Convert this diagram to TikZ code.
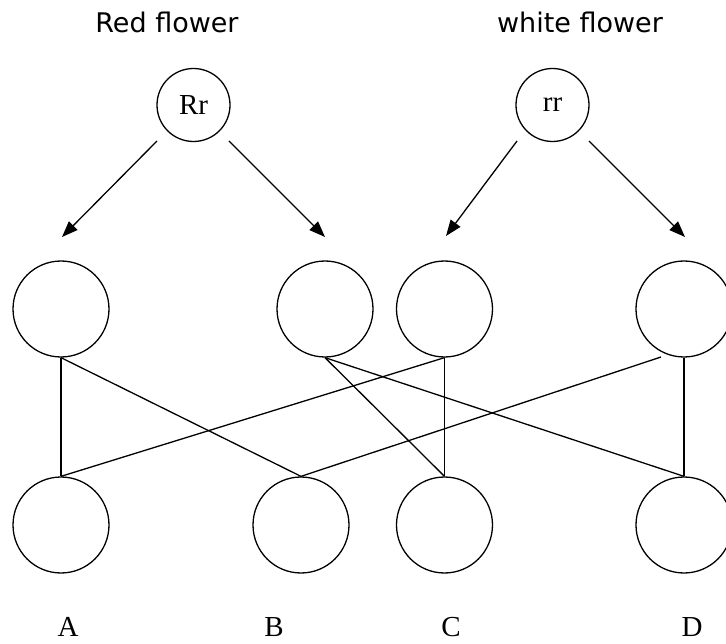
\documentclass[tikz,border=0pt]{standalone}
\usepackage{fontspec}
\setmainfont{Liberation Serif}
\newfontfamily\labelsans{DejaVu Sans}
\usetikzlibrary{arrows.meta}
\tikzset{
  bigcirc/.style={circle,draw,line width=1.3pt,minimum size=96pt,inner sep=0pt},
  parcirc/.style={circle,draw,line width=1.3pt,minimum size=73pt,inner sep=0pt,font=\fontsize{29}{30}\selectfont},
  conn/.style={line width=1.3pt},
  arr/.style={line width=1.3pt,-{Triangle[length=16pt,width=12pt]}},
  toplabel/.style={anchor=base,inner sep=0pt,font=\labelsans\fontsize{27}{30}\selectfont},
  letter/.style={anchor=base,inner sep=0pt,font=\fontsize{29}{30}\selectfont}
}
\begin{document}
\begin{tikzpicture}[x=1pt,y=-1pt]
\useasboundingbox (0,0) rectangle (726,644);
% titles
\node[toplabel] (t1) at (167,33) {Red flower};
\node[toplabel] (t2) at (580,33) {white flower};
% parents
\node[parcirc] (Rr) at (193.5,105) {Rr};
\node[parcirc] (rr) at (552.5,105) {rr};
% gamete row
\node[bigcirc] (m1) at (61,309) {};
\node[bigcirc] (m2) at (325,309) {};
\node[bigcirc] (m3) at (444.5,309) {};
\node[bigcirc] (m4) at (684,309) {};
% offspring row
\node[bigcirc] (b1) at (61,525) {};
\node[bigcirc] (b2) at (301,525) {};
\node[bigcirc] (b3) at (444.5,525) {};
\node[bigcirc] (b4) at (684,525) {};
% letters
\node[letter] (lA) at (68,636) {A};
\node[letter] (lB) at (274,636) {B};
\node[letter] (lC) at (451,636) {C};
\node[letter] (lD) at (692,636) {D};
% arrow coordinates
\coordinate (a1s) at (157,141);
\coordinate (a1e) at (62,237);
\coordinate (a2s) at (229,141);
\coordinate (a2e) at (325,237);
\coordinate (a3s) at (517,141);
\coordinate (a3e) at (446,236);
\coordinate (a4s) at (589,141);
\coordinate (a4e) at (685,237);
\draw[arr] (a1s) -- (a1e);
\draw[arr] (a2s) -- (a2e);
\draw[arr] (a3s) -- (a3e);
\draw[arr] (a4s) -- (a4e);
% connecting lines
\coordinate (m4off) at (661,357);
\draw[conn] (m1.south) -- (b1.north);
\draw[conn] (m1.south) -- (b2.north);
\draw[conn] (m2.south) -- (b3.north);
\draw[conn] (m2.south) -- (b4.north);
\draw[conn] (m3.south) -- (b1.north);
\draw[conn] (m3.south) -- (b3.north);
\draw[conn] (m4off) -- (b2.north);
\draw[conn] (m4.south) -- (b4.north);
\end{tikzpicture}
\end{document}
